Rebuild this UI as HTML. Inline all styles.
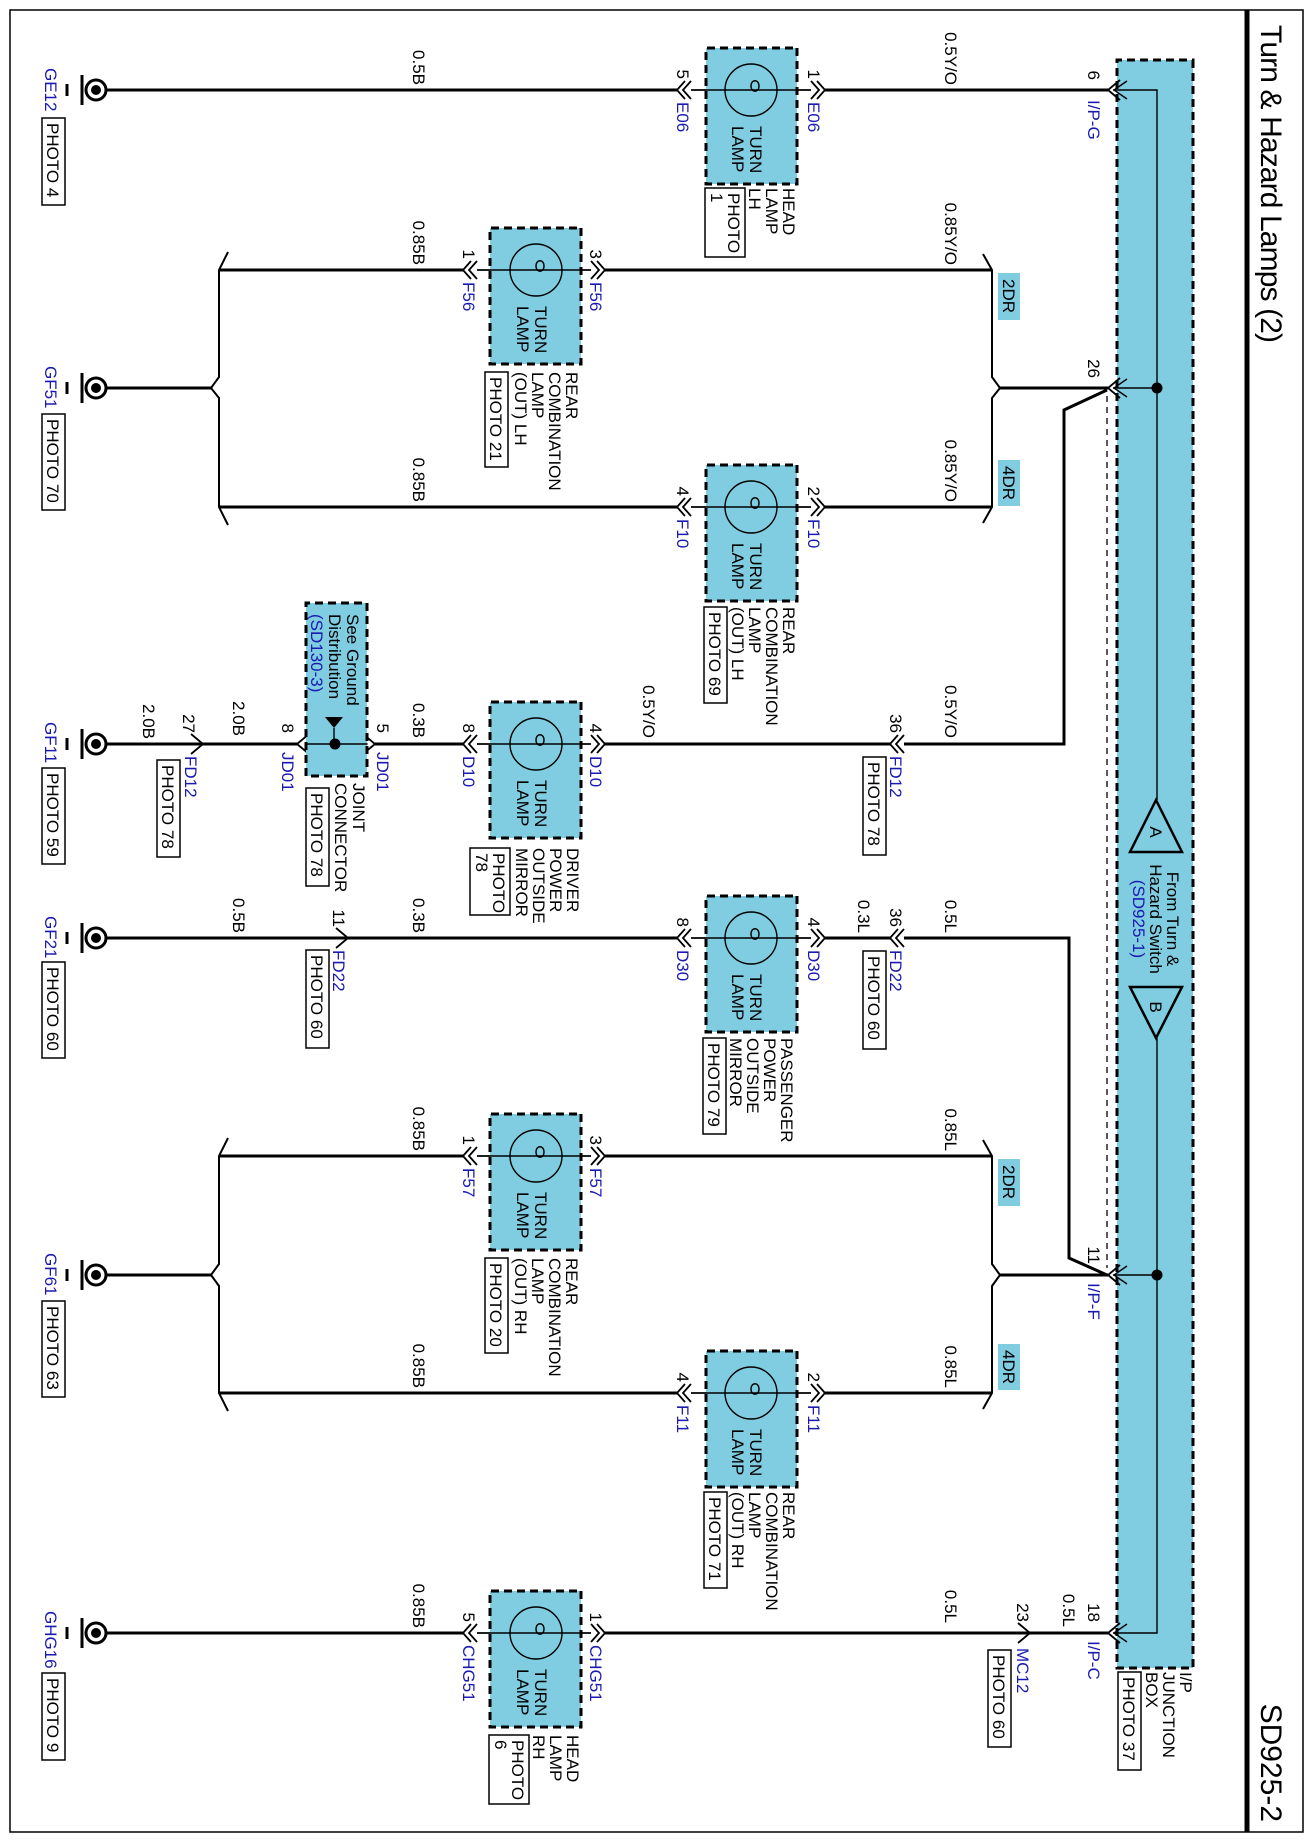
<!DOCTYPE html>
<html><head><meta charset="utf-8"><style>
html,body{margin:0;padding:0;background:#fff}
svg{display:block}
text{font-family:"Liberation Sans",Arial,sans-serif;font-size:17px;fill:#000}
.b{fill:#1a1ab0}
.w{stroke:#000;stroke-width:3;fill:none}
.t{stroke:#000;stroke-width:1.4;fill:none}
.c{stroke:#000;stroke-width:1.8;fill:none}
.box{fill:#80cde2;stroke:#000;stroke-width:3;stroke-dasharray:8,5}
.pb{fill:#fff;stroke:#000;stroke-width:1.5}
.tag{fill:#80cde2}
</style></head><body>
<svg width="1311" height="1842" viewBox="0 0 1311 1842" xmlns="http://www.w3.org/2000/svg">
<rect x="0" y="0" width="1311" height="1842" fill="#fff"/>
<g transform="translate(1311,0) rotate(90)">
<rect x="10" y="8" width="1822" height="1293" fill="none" stroke="#000" stroke-width="1.5"/>
<line x1="10" y1="64" x2="1832" y2="64" stroke="#000" stroke-width="5"/>
<text x="25" y="50" style="font-size:30px" textLength="318">Turn &amp; Hazard Lamps (2)</text>
<text x="1822" y="50" style="font-size:30px" text-anchor="end">SD925-2</text>

<rect class="box" x="60" y="118" width="1608" height="76"/>
<polyline class="t" points="90,198 90,154 800,154"/>
<polyline class="t" points="1038,154 1633,154 1633,198"/>
<line class="t" x1="388" y1="154" x2="388" y2="198"/>
<line class="t" x1="1275" y1="154" x2="1275" y2="198"/>
<circle cx="388" cy="154" r="5.5"/>
<circle cx="1275" cy="154" r="5.5"/>
<polygon points="800,155 852,129 852,181" fill="none" stroke="#000" stroke-width="2.5"/>
<polygon points="1038,155 987,129 987,181" fill="none" stroke="#000" stroke-width="2.5"/>
<text x="832" y="161" text-anchor="middle">A</text>
<text x="1007" y="161" text-anchor="middle">B</text>
<text x="919" y="144" text-anchor="middle">From Turn &amp;</text>
<text x="919" y="161" text-anchor="middle">Hazard Switch</text>
<text x="919" y="178" text-anchor="middle" class="b">(SD925-1)</text>
<text x="1672" y="131">I/P</text>
<text x="1672" y="148">JUNCTION</text>
<text x="1672" y="165">BOX</text>
<rect class="pb" x="1672" y="170" width="98" height="23"/>
<text x="1677" y="188">PHOTO 37</text>
<g class="c">
<polyline points="80,191 90,203 100,191"/><polyline class="t" points="81,184 90,197 99,184"/>
<polyline points="378,191 388,203 398,191"/><polyline class="t" points="379,184 388,197 397,184"/>
<polyline points="1265,191 1275,203 1285,191"/><polyline class="t" points="1266,184 1275,197 1284,184"/>
<polyline points="1623,191 1633,203 1643,191"/><polyline class="t" points="1624,184 1633,197 1642,184"/>
</g>
<text x="80" y="223" text-anchor="end">6</text><text x="100" y="223" class="b">I/P-G</text>
<text x="378" y="223" text-anchor="end">26</text>
<text x="1264" y="223" text-anchor="end">11</text><text x="1283" y="223" class="b">I/P-F</text>
<text x="1622" y="223" text-anchor="end">18</text><text x="1641" y="223" class="b">I/P-C</text>
<line x1="396" y1="204" x2="1268" y2="204" stroke="#000" stroke-width="1.3" stroke-dasharray="6,5"/>

<g>
<circle cx="90" cy="1215" r="10" fill="#fff" stroke="#000" stroke-width="3"/><circle cx="90" cy="1215" r="5"/>
<line class="w" x1="75" y1="1229" x2="105" y2="1229"/><line class="w" x1="84" y1="1244" x2="96" y2="1244"/>
<circle cx="388" cy="1215" r="10" fill="#fff" stroke="#000" stroke-width="3"/><circle cx="388" cy="1215" r="5"/>
<line class="w" x1="373" y1="1229" x2="403" y2="1229"/><line class="w" x1="382" y1="1244" x2="394" y2="1244"/>
<circle cx="744" cy="1215" r="10" fill="#fff" stroke="#000" stroke-width="3"/><circle cx="744" cy="1215" r="5"/>
<line class="w" x1="729" y1="1229" x2="759" y2="1229"/><line class="w" x1="738" y1="1244" x2="750" y2="1244"/>
<circle cx="938" cy="1215" r="10" fill="#fff" stroke="#000" stroke-width="3"/><circle cx="938" cy="1215" r="5"/>
<line class="w" x1="923" y1="1229" x2="953" y2="1229"/><line class="w" x1="932" y1="1244" x2="944" y2="1244"/>
<circle cx="1275" cy="1215" r="10" fill="#fff" stroke="#000" stroke-width="3"/><circle cx="1275" cy="1215" r="5"/>
<line class="w" x1="1260" y1="1229" x2="1290" y2="1229"/><line class="w" x1="1269" y1="1244" x2="1281" y2="1244"/>
<circle cx="1633" cy="1215" r="10" fill="#fff" stroke="#000" stroke-width="3"/><circle cx="1633" cy="1215" r="5"/>
<line class="w" x1="1618" y1="1229" x2="1648" y2="1229"/><line class="w" x1="1627" y1="1244" x2="1639" y2="1244"/>
</g>
<text x="68" y="1266" class="b">GE12</text><rect class="pb" x="118" y="1246" width="87" height="23"/><text x="123" y="1264">PHOTO 4</text>
<text x="366" y="1266" class="b">GF51</text><rect class="pb" x="414" y="1246" width="96" height="23"/><text x="419" y="1264">PHOTO 70</text>
<text x="722" y="1266" class="b">GF11</text><rect class="pb" x="768" y="1246" width="96" height="23"/><text x="773" y="1264">PHOTO 59</text>
<text x="916" y="1266" class="b">GF21</text><rect class="pb" x="962" y="1246" width="96" height="23"/><text x="967" y="1264">PHOTO 60</text>
<text x="1253" y="1266" class="b">GF61</text><rect class="pb" x="1301" y="1246" width="96" height="23"/><text x="1306" y="1264">PHOTO 63</text>
<text x="1611" y="1266" class="b">GHG16</text><rect class="pb" x="1673" y="1246" width="87" height="23"/><text x="1678" y="1264">PHOTO 9</text>

<polyline stroke="#000" stroke-width="2" fill="none" points="252,1083 270,1092 377,1092 388,1100 398,1092 507,1092 525,1083"/>
<polyline stroke="#000" stroke-width="2" fill="none" points="254,328 270,319 377,319 388,311 398,319 507,319 523,328"/>
<polyline stroke="#000" stroke-width="2" fill="none" points="1138,1083 1156,1092 1264,1092 1275,1100 1286,1092 1393,1092 1411,1083"/>
<polyline stroke="#000" stroke-width="2" fill="none" points="1140,328 1156,319 1264,319 1275,311 1286,319 1393,319 1409,328"/>
<rect class="tag" x="273" y="291" width="47" height="22"/><text x="296" y="308" text-anchor="middle">2DR</text>
<rect class="tag" x="460" y="291" width="46" height="22"/><text x="483" y="308" text-anchor="middle">4DR</text>
<rect class="tag" x="1159" y="291" width="47" height="22"/><text x="1182" y="308" text-anchor="middle">2DR</text>
<rect class="tag" x="1344" y="291" width="46" height="22"/><text x="1367" y="308" text-anchor="middle">4DR</text>

<g class="w">
<path d="M90 1205V634M90 486V203"/>
<path d="M270 1092V848M270 706V319"/>
<path d="M388 1205V1100M388 311V203"/>
<path d="M507 1092V634M507 486V319"/>
<path d="M744 1205V1108M744 1108V1014M744 936V848M744 706V421"/>
<path d="M744 407V247H410L390 204"/>
<path d="M938 1205V963M938 963V634M938 486V421"/>
<path d="M938 407V242H1258L1275 204"/>
<path d="M1156 1092V848M1156 706V319"/>
<path d="M1275 1205V1100M1275 311V203"/>
<path d="M1393 1092V634M1393 486V319"/>
<path d="M1633 1205V848M1633 706V203"/>
</g>
<g class="t">
<path d="M90 620V500M270 834V720M507 620V500M744 834V720M938 620V500M1156 834V720M1393 620V500M1633 834V720M744 1002V948"/>
</g>

<g>
<rect class="box" x="48" y="514" width="136" height="91"/>
<rect class="box" x="465" y="514" width="136" height="91"/>
<rect class="box" x="896" y="514" width="136" height="91"/>
<rect class="box" x="1351" y="514" width="136" height="91"/>
<rect class="box" x="228" y="730" width="136" height="91"/>
<rect class="box" x="702" y="730" width="136" height="91"/>
<rect class="box" x="1114" y="730" width="136" height="91"/>
<rect class="box" x="1591" y="730" width="136" height="91"/>
</g>
<g class="t">
<circle cx="90" cy="560" r="26"/><circle cx="507" cy="560" r="26"/><circle cx="938" cy="560" r="26"/><circle cx="1393" cy="560" r="26"/>
<circle cx="270" cy="775" r="26"/><circle cx="744" cy="775" r="26"/><circle cx="1156" cy="775" r="26"/><circle cx="1633" cy="775" r="26"/>
<path d="M90 500V620M507 500V620M938 500V620M1393 500V620M270 720V834M744 720V834M1156 720V834M1633 720V834"/>
<path d="M86 552c-7 0-7 8 0 8s7-8 0-8M503 552c-7 0-7 8 0 8s7-8 0-8M934 552c-7 0-7 8 0 8s7-8 0-8M1389 552c-7 0-7 8 0 8s7-8 0-8"/>
<path d="M266 767c-7 0-7 8 0 8s7-8 0-8M740 767c-7 0-7 8 0 8s7-8 0-8M1152 767c-7 0-7 8 0 8s7-8 0-8M1629 767c-7 0-7 8 0 8s7-8 0-8"/>
</g>
<g>
<text x="126" y="561">TURN</text><text x="126" y="579">LAMP</text>
<text x="543" y="561">TURN</text><text x="543" y="579">LAMP</text>
<text x="974" y="561">TURN</text><text x="974" y="579">LAMP</text>
<text x="1429" y="561">TURN</text><text x="1429" y="579">LAMP</text>
<text x="306" y="776">TURN</text><text x="306" y="794">LAMP</text>
<text x="780" y="776">TURN</text><text x="780" y="794">LAMP</text>
<text x="1192" y="776">TURN</text><text x="1192" y="794">LAMP</text>
<text x="1669" y="776">TURN</text><text x="1669" y="794">LAMP</text>
</g>

<g class="c">
<path d="M81 620L90 628L99 620M81 626L90 634L99 626M81 494L90 486L99 494M81 500L90 492L99 500"/>
<path d="M498 620L507 628L516 620M498 626L507 634L516 626M498 494L507 486L516 494M498 500L507 492L516 500"/>
<path d="M929 620L938 628L947 620M929 626L938 634L947 626M929 494L938 486L947 494M929 500L938 492L947 500"/>
<path d="M1384 620L1393 628L1402 620M1384 626L1393 634L1402 626M1384 494L1393 486L1402 494M1384 500L1393 492L1402 500"/>
<path d="M261 834L270 842L279 834M261 840L270 848L279 840M261 714L270 706L279 714M261 720L270 712L279 720"/>
<path d="M735 834L744 842L753 834M735 840L744 848L753 840M735 714L744 706L753 714M735 720L744 712L753 720"/>
<path d="M1147 834L1156 842L1165 834M1147 840L1156 848L1165 840M1147 714L1156 706L1165 714M1147 720L1156 712L1165 720"/>
<path d="M1624 834L1633 842L1642 834M1624 840L1633 848L1642 840M1624 714L1633 706L1642 714M1624 720L1633 712L1642 720"/>
<path d="M735 407L744 415L753 407M735 413L744 421L753 413"/>
<path d="M929 407L938 415L947 407M929 413L938 421L947 413"/>
<path d="M734 1120L744 1108L754 1120"/>
<path d="M928 975L938 963L948 975"/>
<path d="M1623 293L1633 281L1643 293"/>
<path d="M734 1002L744 1014L754 1002"/>
<path d="M734 948L744 936L754 948"/>
</g>
<g class="t"><path d="M736 996L744 1005L752 996M736 953L744 944L752 953"/></g>

<rect class="box" x="603" y="944" width="173" height="61"/>
<line class="t" x1="744" y1="944" x2="744" y2="1005"/>
<text x="614" y="964">See Ground</text>
<text x="614" y="982">Distribution</text>
<text x="614" y="1000" class="b">(SD130-3)</text>
<polygon points="717,968 717,986 728,977"/>
<line class="t" x1="728" y1="977" x2="744" y2="977"/>
<circle cx="744" cy="976" r="5.5"/>
<text x="733" y="1029" text-anchor="end">8</text><text x="752" y="1029" class="b">JD01</text>
<text x="733" y="934" text-anchor="end">5</text><text x="752" y="934" class="b">JD01</text>
<text x="783" y="958">JOINT</text><text x="783" y="976">CONNECTOR</text>
<rect class="pb" x="788" y="982" width="98" height="23"/><text x="793" y="1000">PHOTO 78</text>

<text x="79" y="634" text-anchor="end">5</text><text x="102" y="634" class="b">E06</text>
<text x="79" y="503" text-anchor="end">1</text><text x="102" y="503" class="b">E06</text>
<text x="259" y="848" text-anchor="end">1</text><text x="282" y="848" class="b">F56</text>
<text x="259" y="721" text-anchor="end">3</text><text x="282" y="721" class="b">F56</text>
<text x="496" y="634" text-anchor="end">4</text><text x="519" y="634" class="b">F10</text>
<text x="496" y="503" text-anchor="end">2</text><text x="519" y="503" class="b">F10</text>
<text x="733" y="848" text-anchor="end">8</text><text x="756" y="848" class="b">D10</text>
<text x="733" y="721" text-anchor="end">4</text><text x="756" y="721" class="b">D10</text>
<text x="927" y="634" text-anchor="end">8</text><text x="950" y="634" class="b">D30</text>
<text x="927" y="503" text-anchor="end">4</text><text x="950" y="503" class="b">D30</text>
<text x="1145" y="848" text-anchor="end">1</text><text x="1168" y="848" class="b">F57</text>
<text x="1145" y="721" text-anchor="end">3</text><text x="1168" y="721" class="b">F57</text>
<text x="1382" y="634" text-anchor="end">4</text><text x="1405" y="634" class="b">F11</text>
<text x="1382" y="503" text-anchor="end">2</text><text x="1405" y="503" class="b">F11</text>
<text x="1622" y="848" text-anchor="end">5</text><text x="1645" y="848" class="b">CHG51</text>
<text x="1622" y="721" text-anchor="end">1</text><text x="1645" y="721" class="b">CHG51</text>

<text x="733" y="1128" text-anchor="end">27</text><text x="756" y="1126" class="b">FD12</text>
<rect class="pb" x="760" y="1131" width="97" height="23"/><text x="765" y="1149">PHOTO 78</text>
<text x="733" y="421" text-anchor="end">36</text><text x="756" y="421" class="b">FD12</text>
<rect class="pb" x="757" y="425" width="98" height="23"/><text x="762" y="443">PHOTO 78</text>
<text x="927" y="421" text-anchor="end">36</text><text x="950" y="421" class="b">FD22</text>
<rect class="pb" x="951" y="425" width="98" height="23"/><text x="956" y="443">PHOTO 60</text>
<text x="927" y="978" text-anchor="end">11</text><text x="950" y="978" class="b">FD22</text>
<rect class="pb" x="950" y="982" width="98" height="23"/><text x="955" y="1000">PHOTO 60</text>
<text x="1622" y="294" text-anchor="end">23</text><text x="1648" y="294" class="b">MC12</text>
<rect class="pb" x="1650" y="300" width="97" height="23"/><text x="1655" y="318">PHOTO 60</text>

<g text-anchor="end">
<text x="85" y="898">0.5B</text><text x="85" y="366">0.5Y/O</text>
<text x="265" y="898">0.85B</text><text x="265" y="366">0.85Y/O</text>
<text x="502" y="898">0.85B</text><text x="502" y="366">0.85Y/O</text>
<text x="739" y="1168">2.0B</text><text x="736" y="1078">2.0B</text><text x="738" y="898">0.3B</text><text x="738" y="668">0.5Y/O</text><text x="738" y="366">0.5Y/O</text>
<text x="933" y="1078">0.5B</text><text x="933" y="898">0.3B</text><text x="933" y="453">0.3L</text><text x="933" y="366">0.5L</text>
<text x="1151" y="898">0.85B</text><text x="1151" y="366">0.85L</text>
<text x="1388" y="898">0.85B</text><text x="1388" y="366">0.85L</text>
<text x="1628" y="898">0.85B</text><text x="1623" y="366">0.5L</text><text x="1627" y="248">0.5L</text>
</g>

<text x="188" y="528">HEAD</text><text x="188" y="545">LAMP</text><text x="188" y="562">LH</text>
<rect class="pb" x="188" y="566" width="69" height="40"/><text x="193" y="583">PHOTO</text><text x="193" y="600">1</text>
<text x="607" y="528">REAR</text><text x="607" y="545">COMBINATION</text><text x="607" y="562">LAMP</text><text x="607" y="579">(OUT) LH</text>
<rect class="pb" x="607" y="584" width="96" height="23"/><text x="612" y="602">PHOTO 69</text>
<text x="1038" y="530">PASSENGER</text><text x="1038" y="547">POWER</text><text x="1038" y="564">OUTSIDE</text><text x="1038" y="581">MIRROR</text>
<rect class="pb" x="1038" y="585" width="96" height="23"/><text x="1043" y="603">PHOTO 79</text>
<text x="1492" y="528">REAR</text><text x="1492" y="545">COMBINATION</text><text x="1492" y="562">LAMP</text><text x="1492" y="579">(OUT) RH</text>
<rect class="pb" x="1492" y="584" width="96" height="23"/><text x="1497" y="602">PHOTO 71</text>
<text x="372" y="745">REAR</text><text x="372" y="762">COMBINATION</text><text x="372" y="779">LAMP</text><text x="372" y="796">(OUT) LH</text>
<rect class="pb" x="372" y="803" width="95" height="23"/><text x="377" y="821">PHOTO 21</text>
<text x="848" y="744">DRIVER</text><text x="848" y="761">POWER</text><text x="848" y="778">OUTSIDE</text><text x="848" y="795">MIRROR</text>
<rect class="pb" x="848" y="801" width="67" height="40"/><text x="853" y="818">PHOTO</text><text x="853" y="835">78</text>
<text x="1258" y="745">REAR</text><text x="1258" y="762">COMBINATION</text><text x="1258" y="779">LAMP</text><text x="1258" y="796">(OUT) RH</text>
<rect class="pb" x="1258" y="803" width="95" height="23"/><text x="1263" y="821">PHOTO 20</text>
<text x="1735" y="744">HEAD</text><text x="1735" y="761">LAMP</text><text x="1735" y="778">RH</text>
<rect class="pb" x="1735" y="782" width="69" height="40"/><text x="1740" y="799">PHOTO</text><text x="1740" y="816">6</text>
</g>
</svg>
</body></html>
